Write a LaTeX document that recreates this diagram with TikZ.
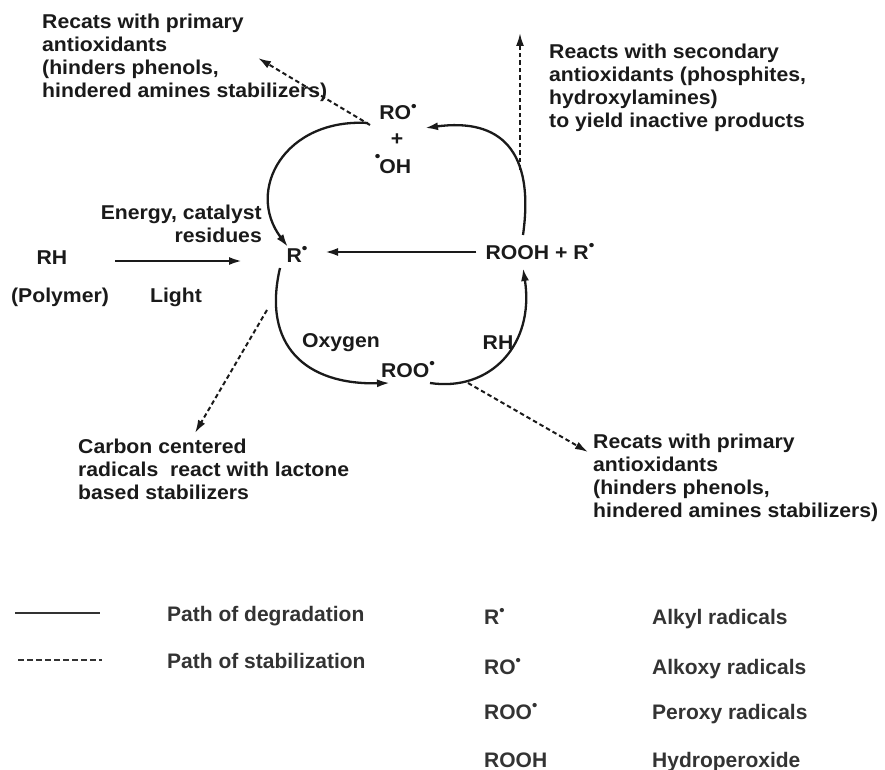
\documentclass[tikz,border=0pt]{standalone}
\usepackage{fontspec}
\setmainfont{Liberation Sans}[FakeStretch=1.06]
\newfontfamily\legfont{Liberation Sans}
\usetikzlibrary{arrows.meta}
\definecolor{ink}{HTML}{1A1A1A}
\definecolor{leg}{HTML}{333333}
\newcommand\msz{\fontsize{20}{23}\selectfont\bfseries}
\newcommand\lsz{\legfont\fontsize{21}{24}\selectfont\bfseries}
\newcommand\rdt{\raisebox{0.42em}{\fontsize{15}{15}\selectfont •}}
\begin{document}
\begin{tikzpicture}[x=1pt,y=-1pt,
  lbl/.style={font=\msz, text=ink, inner sep=0pt},
  blk/.style={lbl, align=left, anchor=north west},
  lg/.style={font=\lsz, text=leg, inner sep=0pt, anchor=base west},
  deg/.style={draw=ink, line width=2.3pt, -{Latex[length=13pt,width=8pt]}},
  stab/.style={draw=ink, line width=2pt, dash pattern=on 4.5pt off 3pt, -{Latex[length=13pt,width=8pt]}}]
\useasboundingbox (0,0) rectangle (885,770);

% ---- text blocks
\node[blk] (t1) at (42,14) {Recats with primary\\antioxidants\\(hinders phenols,\\hindered amines stabilizers)};
\node[blk] (t2) at (549,44) {Reacts with secondary\\antioxidants (phosphites,\\hydroxylamines)\\to yield inactive products};
\node[blk] (t3) at (593,434) {Recats with primary\\antioxidants\\(hinders phenols,\\hindered amines stabilizers)};
\node[blk] (t4) at (78,439) {Carbon centered\\radicals\ \ react with lactone\\based stabilizers};
\node[lbl, align=right, anchor=north east] (en) at (262,205) {Energy, catalyst\\residues};

% ---- species
\node[lbl, anchor=base] (rh) at (52,264) {RH};
\node[lbl, anchor=base] (poly) at (60,302) {(Polymer)};
\node[lbl, anchor=base] (light) at (176,302) {Light};
\node[lbl, anchor=base] (r) at (297,262) {R\rdt};
\node[lbl, anchor=base] (ro) at (398,120) {RO\rdt};
\node[lbl, anchor=base] (plus) at (397,146) {+};
\node[lbl, anchor=base] (oh) at (393,173) {\raisebox{0.55em}{\fontsize{15}{15}\selectfont •}\kern-0.05em OH};
\node[lbl, anchor=base] (rooh) at (540,259) {ROOH + R\rdt};
\node[lbl, anchor=base] (oxy) at (341,347) {Oxygen};
\node[lbl, anchor=base] (rh2) at (498,349) {RH};
\node[lbl, anchor=base] (roo) at (408,377) {ROO\rdt};

% ---- degradation paths
\coordinate (a1) at (368,123);
\coordinate (a2) at (288,247);
\draw[deg] (a1) .. controls (285,118) and (245,190) .. (a2);
\coordinate (b1) at (523,235);
\coordinate (b2) at (425,128);
\draw[deg] (b1) .. controls (535,150) and (500,118) .. (b2);
\coordinate (c1) at (280,268);
\coordinate (c2) at (390,383);
\draw[deg] (c1) .. controls (262,345) and (305,385) .. (c2);
\coordinate (d1) at (430,383);
\coordinate (d2) at (523,268);
\draw[deg] (d1) .. controls (490,392) and (535,345) .. (d2);
\draw[deg] ([xshift=-9pt]rooh.west |- 0,252) -- (325,252);
\coordinate (e1) at (115,261);
\coordinate (e2) at (242,261);
\draw[deg] (e1) -- (e2);

% ---- stabilization paths
\coordinate (s1) at (370,125);
\coordinate (s1e) at (258,58);
\draw[stab] (s1) -- (s1e);
\coordinate (s2) at (520,170);
\coordinate (s2e) at (520,33);
\draw[stab] (s2) -- (s2e);
\coordinate (s3) at (468,383);
\coordinate (s3e) at (588,452);
\draw[stab] (s3) -- (s3e);
\coordinate (s4) at (267,310);
\coordinate (s4e) at (195,433);
\draw[stab] (s4) -- (s4e);

% ---- legend
\coordinate (l1a) at (15,613);
\coordinate (l1b) at (100,613);
\draw[leg, line width=2.8pt] (l1a) -- (l1b);
\coordinate (l2a) at (18,660);
\coordinate (l2b) at (102,660);
\draw[leg, line width=2.6pt, dash pattern=on 5.5pt off 3.5pt] (l2a) -- (l2b);
\node[lg] (pd) at (167,621) {Path of degradation};
\node[lg] (ps) at (167,668) {Path of stabilization};
\node[lg] (k1) at (484,624) {R\rdt};
\node[lg] (k2) at (484,674) {RO\rdt};
\node[lg] (k3) at (484,719) {ROO\rdt};
\node[lg] (k4) at (484,767) {ROOH};
\node[lg] (v1) at (652,624) {Alkyl radicals};
\node[lg] (v2) at (652,674) {Alkoxy radicals};
\node[lg] (v3) at (652,719) {Peroxy radicals};
\node[lg] (v4) at (652,767) {Hydroperoxide};
\end{tikzpicture}
\end{document}
